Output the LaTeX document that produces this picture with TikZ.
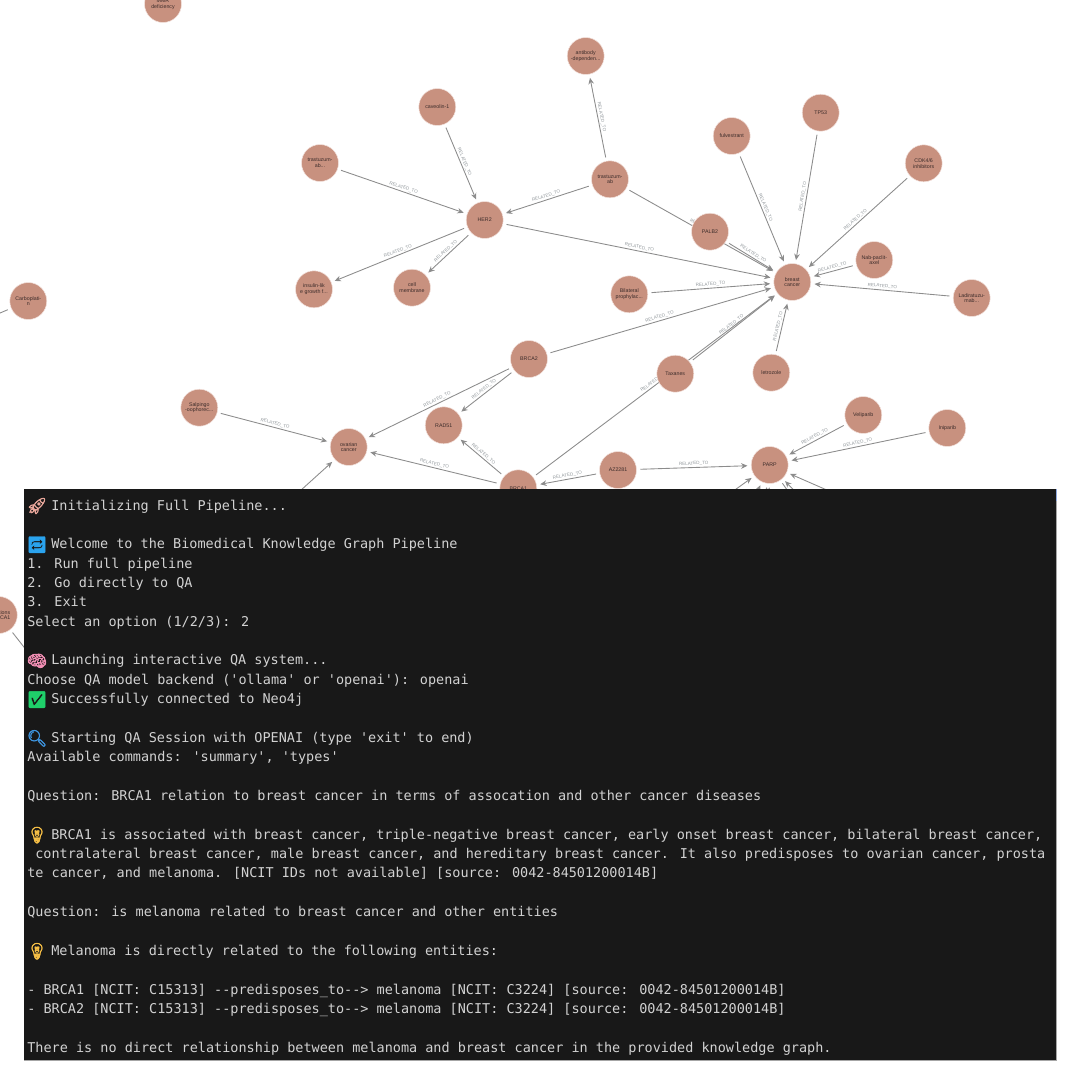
\documentclass[tikz,border=0pt]{standalone}
\usepackage{fontspec}
\setmainfont{Liberation Sans}
\newfontfamily\termfont{DejaVu Sans Mono}
\newfontfamily\emojifont[FakeBold=2.5]{Noto Emoji}
\usetikzlibrary{arrows.meta,backgrounds}
\usepackage{xcolor}
\definecolor{GraphRose}{HTML}{C8917F}
\definecolor{GraphHalo}{HTML}{F3E2DD}
\definecolor{GraphInk}{HTML}{3C2C2A}
\definecolor{GraphEdge}{HTML}{8C8C8C}
\definecolor{GraphMuted}{HTML}{92989C}
\definecolor{TermDark}{HTML}{181818}
\definecolor{TermText}{HTML}{D2D2D2}
\tikzset{
  gnode/.style={circle,fill=GraphRose,draw=GraphHalo,line width=0.3pt,minimum size=0.74cm,inner sep=0pt,
    align=center,text=GraphInk,font=\fontsize{3pt}{3.2pt}\selectfont},
  gedge/.style={->,GraphEdge,line width=0.5pt,shorten >=2pt,shorten <=2pt},
  rellabel/.style={sloped,above,inner sep=0.7pt,text=GraphMuted,font=\fontsize{2.6pt}{3pt}\selectfont},
  termline/.style={anchor=base west,inner sep=0pt,text=TermText,font=\fontsize{7.68pt}{9pt}\termfont},
  emoji/.style={inner sep=0pt,font=\fontsize{9.2pt}{10pt}\emojifont}
}
\begin{document}
\begin{tikzpicture}[x=0.02cm,y=-0.02cm,>={Stealth[length=3.6pt,width=3.2pt]}]
  \useasboundingbox (0,0) rectangle (1080,1080);
  \foreach \id/\x/\y in {ovarianIn/238/547,parpInA/690/522,parpInB/735/540,parpInC/760/540,parpInD/768/540,parpInE/830/528,parpInF/900/522,carboOut/-40/330,mutOut/60/693,parpOut/815/530}
    \coordinate (\id) at (\x,\y);
  \node[gnode] (mmr) at (163,4) {MMR\\deficiency};
  \node[gnode] (caveolin) at (437.3,107) {caveolin-1};
  \node[gnode] (trastA) at (320,163) {trastuzum-\\ab...};
  \node[gnode] (her) at (484.7,220) {HER2};
  \node[gnode] (antibody) at (585.7,56) {antibody\\-dependen...};
  \node[gnode] (trastB) at (610,179.3) {trastuzum-\\ab};
  \node[gnode] (insulin) at (314,289.3) {insulin-lik\\e growth f...};
  \node[gnode] (cell) at (412,287.7) {cell\\membrane};
  \node[gnode] (bilateral) at (629.3,294.3) {Bilateral\\prophylac...};
  \node[gnode] (palb) at (710,231.7) {PALB2};
  \node[gnode] (fulvestrant) at (731.7,136) {fulvestrant};
  \node[gnode] (tp) at (820.7,112.7) {TP53};
  \node[gnode] (cdk) at (923.7,163.3) {CDK4/6\\inhibitors};
  \node[gnode] (nab) at (874.3,260) {Nab-paclit-\\axel};
  \node[gnode] (breast) at (792.3,282) {breast\\cancer};
  \node[gnode] (ladir) at (971.7,298) {Ladiratuzu-\\mab...};
  \node[gnode] (letrozole) at (771.3,372.7) {letrozole};
  \node[gnode] (taxanes) at (675.3,373.7) {Taxanes};
  \node[gnode] (brcaB) at (529,359) {BRCA2};
  \node[gnode] (salpingo) at (199.3,407.7) {Salpingo\\-oophorec...};
  \node[gnode] (ovarian) at (348.7,447) {ovarian\\cancer};
  \node[gnode] (rad) at (443.7,425.3) {RAD51};
  \node[gnode] (brcaA) at (518.3,488.3) {BRCA1};
  \node[gnode] (azd) at (618,470) {AZ2281};
  \node[gnode] (parp) at (769.7,465) {PARP};
  \node[gnode] (veliparib) at (863.3,415) {Veliparib};
  \node[gnode] (iniparib) at (947.3,428) {Iniparib};
  \node[gnode] (carbo) at (28.3,301) {Carboplati-\\n};
  \node[gnode] (mutation) at (-1.2,615) {Mutations\\in BRCA1};
  \begin{scope}[on background layer]
    \foreach \a/\b in {caveolin/her,trastA/her,trastB/her,trastB/antibody,her/insulin,her/cell,her/breast,
      trastB/breast,palb/breast,fulvestrant/breast,tp/breast,cdk/breast,nab/breast,ladir/breast,bilateral/breast,
      letrozole/breast,taxanes/breast,brcaB/breast,brcaA/breast,brcaB/ovarian,brcaB/rad,brcaA/rad,brcaA/ovarian,
      salpingo/ovarian,azd/brcaA,azd/parp,veliparib/parp,iniparib/parp,ovarianIn/ovarian}
      \draw[gedge] (\a) -- node[rellabel] {RELATED\_TO} (\b);
    \foreach \a/\b in {parpInA/parp,parpInB/parp,parpInC/parp,parpInD/parp,parpInE/parp,parpInF/parp}
      \draw[gedge] (\a) -- (\b);
    \foreach \a/\b in {parp/parpOut,carbo/carboOut,mutation/mutOut}
      \draw[gedge,-] (\a) -- (\b);
  \end{scope}
  \fill[gray!70] (23.5,489) rectangle (1057,1061);
  \fill[black!90] (23.5,489) rectangle (1055.5,1060);
  \fill[TermDark] (23.5,489) rectangle (1054,1060);
  \fill[cyan!45!blue!45] (1055.5,489) rectangle (1057,501);
  \foreach \k/\x/\txt in {
    0/51/{Initializing Full Pipeline...},
    2/51/{Welcome to the Biomedical Knowledge Graph Pipeline},
    3/27/{1. Run full pipeline},
    4/27/{2. Go directly to QA},
    5/27/{3. Exit},
    6/27/{Select an option (1/2/3): 2},
    8/51/{Launching interactive QA system...},
    9/27/{Choose QA model backend ('ollama' or 'openai'): openai},
    10/51/{Successfully connected to Neo4j},
    12/51/{Starting QA Session with OPENAI (type 'exit' to end)},
    13/27/{Available commands: 'summary', 'types'},
    15/27/{Question: BRCA1 relation to breast cancer in terms of assocation and other cancer diseases},
    17/51/{BRCA1 is associated with breast cancer, triple-negative breast cancer, early onset breast cancer, bilateral breast cancer,},
    18/35/{contralateral breast cancer, male breast cancer, and hereditary breast cancer. It also predisposes to ovarian cancer, prosta},
    19/27/{te cancer, and melanoma. [NCIT IDs not available] [source: 0042-84501200014B]},
    21/27/{Question: is melanoma related to breast cancer and other entities},
    23/51/{Melanoma is directly related to the following entities:},
    25/27/{- BRCA1 [NCIT: C15313] --predisposes\_to--> melanoma [NCIT: C3224] [source: 0042-84501200014B]},
    26/27/{- BRCA2 [NCIT: C15313] --predisposes\_to--> melanoma [NCIT: C3224] [source: 0042-84501200014B]},
    28/27/{There is no direct relationship between melanoma and breast cancer in the provided knowledge graph.}
  }
    \node[termline] (line\k) at (\x,{510+19.36*\k}) {\txt};
  \foreach \id/\k/\tint/\sym in {
    rocket/0/E9A79B/🚀,
    loopbox/2/2AA3EE/🔁,
    brain/8/F38FB5/🧠,
    check/10/1FD06A/✅,
    lens/12/3E95E0/🔍,
    bulbA/17/F5BE45/💡,
    bulbB/23/F5BE45/💡
  }{
    \definecolor{emojitint}{HTML}{\tint}
    \node[emoji,text=emojitint] (\id) at (37,{506+19.36*\k}) {\sym};
  }
\end{tikzpicture}
\end{document}
